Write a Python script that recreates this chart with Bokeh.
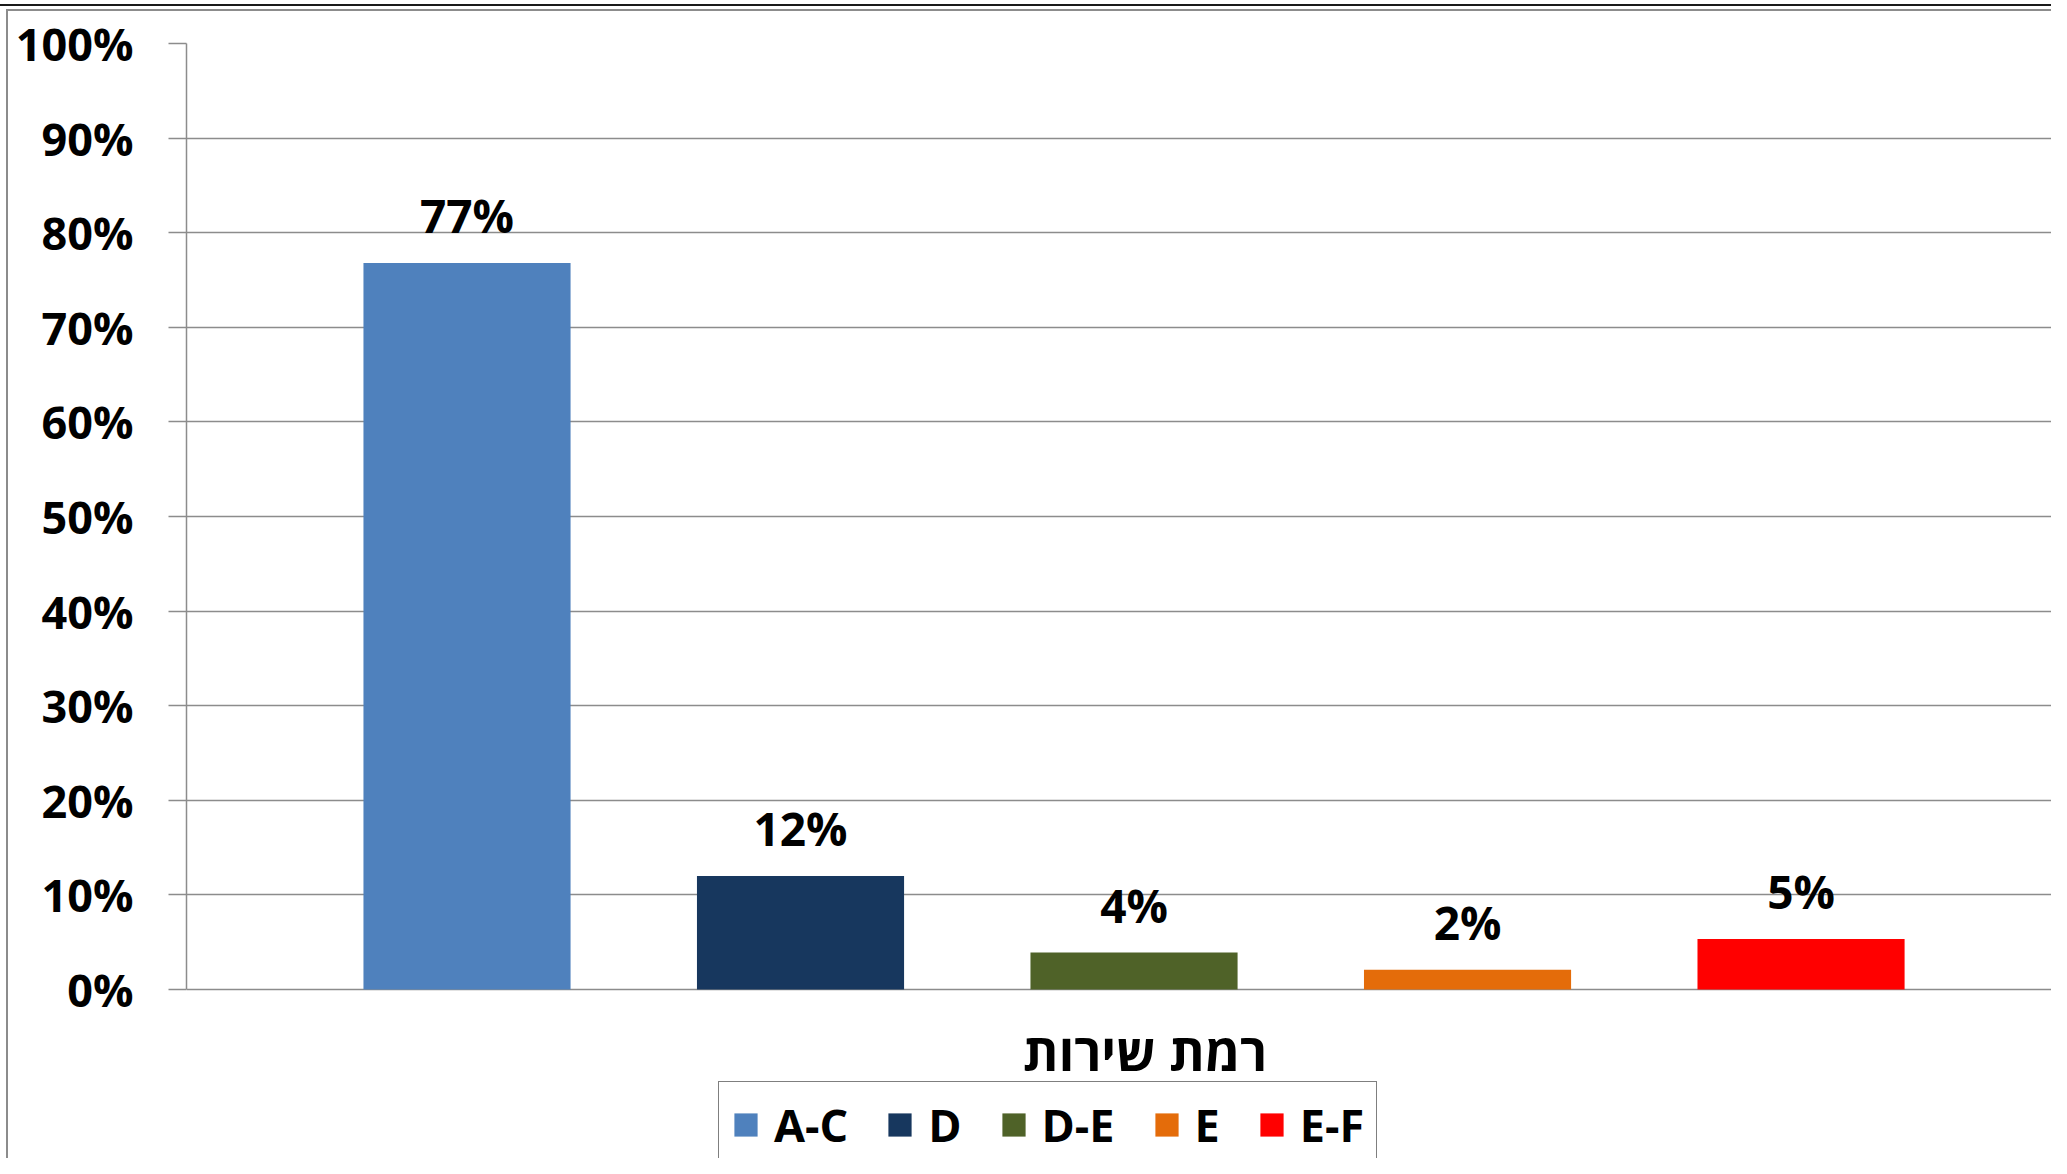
from bokeh.plotting import figure
from bokeh.models import (ColumnDataSource, FixedTicker, NumeralTickFormatter,
                          Range1d, Legend, LegendItem, Label, InlineStyleSheet)
from bokeh.core.properties import value
from bokeh.embed import file_html
from bokeh.resources import INLINE

# ---- data ----
categories = ["A-C", "D", "D-E", "E", "E-F"]
shares = [0.768, 0.120, 0.039, 0.021, 0.0535]
share_labels = ["77%", "12%", "4%", "2%", "5%"]
bar_colors = ["#4F81BD", "#17375E", "#4F6228", "#E46C0A", "#FF0000"]
y_ticks = [0.0, 0.1, 0.2, 0.3, 0.4, 0.5, 0.6, 0.7, 0.8, 0.9, 1.0]
x_title = "רמת שירות"

positions = [i + 1 for i in range(len(categories))]

source = ColumnDataSource(dict(x=positions, top=shares, label=share_labels,
                               color=bar_colors, name=categories))

FONT = "Open Sans"
GRID = "#8c8c8c"

# frame: left 186px, top 43px; 0% at 989px, 946px per 100%
p = figure(width=2051, height=1158, output_backend="svg", toolbar_location=None,
           x_range=Range1d(0.1589, 5.751), y_range=Range1d(-0.17865, 1.0),
           min_border_left=186, min_border_right=0, min_border_top=43,
           min_border_bottom=0)
p.outline_line_color = None
p.background_fill_color = "white"
p.border_fill_color = "white"

bars = p.vbar(x="x", top="top", bottom=0, width=0.621, source=source,
              fill_color="color", line_color=None)

p.text(x="x", y="top", text="label", source=source, text_align="center",
       text_baseline="alphabetic", y_offset=-48, text_font_size="46px",
       text_font_style="bold", text_color="black", text_font=value(FONT))

# grid
p.xgrid.visible = False
p.ygrid.ticker = FixedTicker(ticks=y_ticks)
p.ygrid.grid_line_color = GRID
p.ygrid.grid_line_width = 1.5

# y axis
ya = p.yaxis[0]
ya.ticker = FixedTicker(ticks=y_ticks)
ya.formatter = NumeralTickFormatter(format="0%")
ya.bounds = (0, 1)
ya.axis_line_color = GRID
ya.axis_line_width = 1.5
ya.major_tick_line_color = GRID
ya.major_tick_line_width = 1.5
ya.major_tick_out = 18
ya.major_tick_in = 0
ya.minor_tick_line_color = None
ya.major_label_standoff = 35
ya.major_label_text_font = FONT
ya.major_label_text_font_size = "45px"
ya.major_label_text_font_style = "bold"
ya.major_label_text_color = "black"

# x axis is represented only by its title (category axis has no labels)
p.xaxis.visible = False
title = Label(x=positions[2], y=-0.0645, x_offset=11, text=x_title,
              text_align="center", text_baseline="middle",
              text_font=FONT, text_font_size="51px", text_font_style="bold",
              text_color="black")
p.add_layout(title)

# legend
items = [LegendItem(label=c, renderers=[bars], index=i)
         for i, c in enumerate(categories)]
legend = Legend(items=items, orientation="horizontal", location=(532, -10),
                padding=12, spacing=37, label_standoff=14,
                glyph_width=29, glyph_height=29,
                label_text_font=FONT, label_text_font_size="45px",
                label_text_font_style="bold", label_text_color="black",
                border_line_color="black", border_line_width=1.5,
                background_fill_color="white", background_fill_alpha=1.0)
p.add_layout(legend, "center")

# outer chart border seen at the top and left edge of the screenshot
p.stylesheets = [InlineStyleSheet(css="""
:host { position: relative; }
:host::before { content: ""; position: absolute; left: 0; top: 4px; width: 100%;
  height: 2px; background: #1a1a1a; z-index: 10; pointer-events: none; }
:host::after { content: ""; position: absolute; left: 6px; top: 9px; right: 0;
  bottom: 0; border-left: 2px solid #8c8c8c; border-top: 2px solid #8c8c8c;
  z-index: 10; pointer-events: none; }
""")]

open("out.html", "w").write(file_html(p, INLINE))
